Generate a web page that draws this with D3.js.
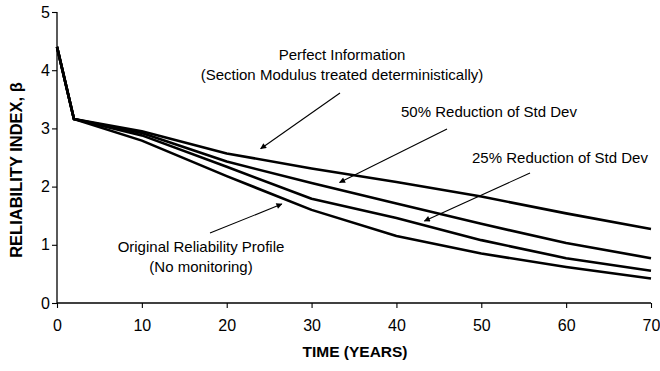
<!DOCTYPE html>
<html>
<head>
<meta charset="utf-8">
<script src="https://cdn.jsdelivr.net/npm/d3@7"></script>
<style>
  html, body { margin: 0; padding: 0; background: #fff; }
  svg { display: block; font-family: "Liberation Sans", Arial, sans-serif; }
</style>
</head>
<body>
<svg id="chart" width="660" height="371"></svg>
<script>
// Time since construction (years)
const years = [0, 2, 10, 20, 30, 40, 50, 60, 70];

// Reliability index profiles
const original      = [4.40, 3.16, 2.79, 2.18, 1.60, 1.15, 0.85, 0.62, 0.42];
const reduction25   = [4.40, 3.16, 2.88, 2.34, 1.79, 1.46, 1.08, 0.77, 0.555];
const reduction50   = [4.40, 3.16, 2.92, 2.43, 2.06, 1.71, 1.36, 1.03, 0.77];
const perfectInfo   = [4.40, 3.16, 2.95, 2.57, 2.31, 2.08, 1.83, 1.54, 1.27];

const xTicks = [0, 10, 20, 30, 40, 50, 60, 70];
const yTicks = [0, 1, 2, 3, 4, 5];

// Annotation text and the point (year, beta) each arrow points to
const notes = [
  { lines: ["Perfect Information", "(Section Modulus treated deterministically)"], target: [24, 2.65] },
  { lines: ["50% Reduction of Std Dev"], target: [33.3, 2.07] },
  { lines: ["25% Reduction of Std Dev"], target: [43.3, 1.41] },
  { lines: ["Original Reliability Profile", "(No monitoring)"], target: [26.5, 1.70] }
];

const svg = d3.select("#chart");
const x = d3.scaleLinear().domain([0, 70]).range([57, 651]);
const y = d3.scaleLinear().domain([0, 5]).range([303, 12]);

// Axes
const xAxis = d3.axisBottom(x).tickValues(xTicks).tickFormat(d3.format("d")).tickSize(5).tickPadding(12);
const yAxis = d3.axisLeft(y).tickValues(yTicks).tickFormat(d3.format("d")).tickSize(5).tickPadding(2);

const gx = svg.append("g").attr("transform", `translate(0,${y(0)})`).call(xAxis);
const gy = svg.append("g").attr("transform", `translate(${x(0)},0)`).call(yAxis);
[gx, gy].forEach(g => {
  g.attr("font-size", null).attr("font-family", null);
  g.select(".domain").attr("stroke", "#000").attr("stroke-width", 1.3);
  g.selectAll(".tick line").attr("stroke", "#000").attr("stroke-width", 1.1);
  g.selectAll(".tick text").attr("fill", "#000").style("font-size", "16px");
});
gx.select(".domain").attr("d", `M${x(0)},0H${x(70)}`);
gy.select(".domain").attr("d", `M0,${y(5)}V${y(0)}`);

// Axis titles
svg.append("text")
  .attr("x", 355).attr("y", 357)
  .attr("text-anchor", "middle")
  .style("font-size", "15.5px").attr("font-weight", "bold")
  .text("TIME (YEARS)");

svg.append("text")
  .attr("transform", "translate(22,170) rotate(-90)")
  .attr("text-anchor", "middle")
  .style("font-size", "16.5px").attr("font-weight", "bold")
  .text("RELIABILITY INDEX, β");

// Profiles
const line = d3.line().x((d, i) => x(years[i])).y(d => y(d));
[original, reduction25, reduction50, perfectInfo].forEach(series => {
  svg.append("path")
    .attr("d", line(series))
    .attr("fill", "none")
    .attr("stroke", "#000")
    .attr("stroke-width", 2.6)
    .attr("stroke-linejoin", "round");
});

// Arrowhead marker
svg.append("defs").append("marker")
  .attr("id", "arrow")
  .attr("viewBox", "0 0 10 10")
  .attr("refX", 9).attr("refY", 5)
  .attr("markerWidth", 7).attr("markerHeight", 6)
  .attr("markerUnits", "userSpaceOnUse")
  .attr("orient", "auto")
  .append("path").attr("d", "M0,0L10,5L0,10z").attr("fill", "#000");

// Label positions (pixel anchors for text blocks and arrow tails)
const layout = [
  { cx: 342, base: 60, tail: [340, 93] },
  { cx: 489, base: 117, tail: [447, 129] },
  { cx: 560, base: 163, tail: [530, 173] },
  { cx: 201, base: 252, tail: [210, 233] }
];

notes.forEach((n, i) => {
  const L = layout[i];
  n.lines.forEach((t, j) => {
    svg.append("text")
      .attr("x", L.cx).attr("y", L.base + j * 20)
      .attr("text-anchor", "middle")
      .style("font-size", "15px")
      .text(t);
  });
  svg.append("line")
    .attr("x1", L.tail[0]).attr("y1", L.tail[1])
    .attr("x2", x(n.target[0])).attr("y2", y(n.target[1]))
    .attr("stroke", "#000").attr("stroke-width", 1.1)
    .attr("marker-end", "url(#arrow)");
});
</script>
</body>
</html>
